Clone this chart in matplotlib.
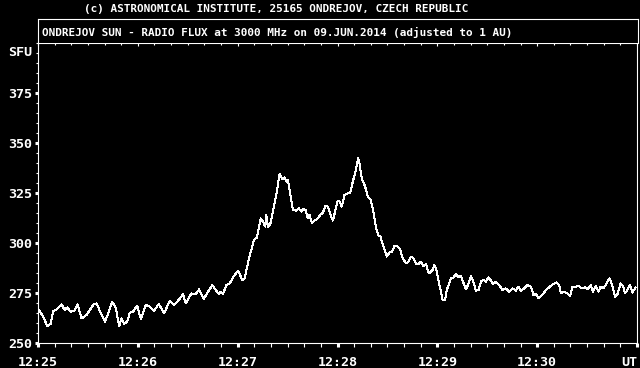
import numpy as np
import matplotlib
matplotlib.use("Agg")
import matplotlib.pyplot as plt
from matplotlib.ticker import MultipleLocator, FixedLocator

# seconds after 12:25:00 UT and flux in SFU
t_sec = [
    0.6, 3.2, 5.6, 7.6, 9.2, 11.2, 14.2, 16.0, 17.6, 19.6, 21.8, 23.8, 26.2, 29.2,
    31.2, 33.6, 35.2, 37.6, 40.2, 42.2, 44.6, 46.8, 48.8, 50.2, 51.8, 53.6, 55.2,
    57.2, 59.6, 61.8, 64.8, 67.2, 69.6, 72.6, 75.8, 79.2, 81.6, 84.2, 87.2, 88.8,
    92.2, 94.6, 96.8, 99.6, 102.2, 104.8, 106.8, 108.6, 109.8, 111.2, 113.2,
    115.2, 117.8, 120.2, 122.8, 124.2, 126.8, 129.8, 131.6, 133.8, 135.2, 136.6,
    137.2, 138.2, 139.6, 141.2, 143.2, 145.2, 146.8, 148.2, 149.2, 150.2, 151.2,
    153.2, 155.2, 156.8, 158.2, 159.6, 160.8, 162.2, 163.2, 164.6, 166.2, 168.2,
    169.6, 171.2, 172.8, 174.2, 175.6, 177.2, 178.8, 180.2, 181.2, 182.6, 184.2,
    186.2, 187.6, 189.2, 190.8, 192.4, 193.2, 194.6, 196.6, 198.2, 199.8, 201.2,
    203.2, 204.8, 205.8, 207.6, 209.6, 211.2, 212.8, 214.2, 216.2, 217.6, 219.2,
    221.2, 222.6, 224.2, 225.6, 227.2, 228.8, 230.2, 231.6, 233.2, 234.8, 236.2,
    237.2, 238.2, 239.2, 240.6, 242.2, 243.2, 244.6, 245.8, 247.2, 248.2, 249.8,
    251.2, 252.8, 254.2, 255.8, 257.2, 258.8, 260.2, 261.6, 263.2, 264.8, 266.2,
    267.8, 269.2, 270.6, 272.2, 273.6, 275.2, 277.2, 279.2, 281.2, 283.2, 285.2,
    287.2, 288.8, 290.2, 292.2, 294.2, 296.2, 297.8, 299.2, 300.8, 302.2, 303.8,
    305.2, 307.2, 309.2, 311.6, 313.2, 314.2, 316.2, 318.2, 319.8, 321.2, 323.2,
    325.2, 326.8, 328.8, 330.2, 332.2, 333.6, 335.2, 336.8, 338.2, 339.6, 340.8,
    342.2, 343.6, 345.2, 346.8, 348.2, 350.2, 351.6, 352.8, 354.2, 355.8, 357.2,
    359.2,
]
flux = [
    266.5, 263, 258.5, 259.5, 266, 266.8, 269.3, 266.5, 267.8, 265.7, 266.2, 269.3,
    262.3, 264, 266.5, 269.5, 269.8, 265.2, 260.7, 264.8, 270.7, 267.3, 258.5,
    262.3, 259.5, 260.7, 265.2, 265.7, 268.7, 262, 269, 268.2, 266, 269.5, 264.8,
    271.2, 269, 271.2, 274.3, 269.8, 274.8, 274.3, 276.8, 272, 275.7, 279, 276.5,
    274.5, 275.7, 274.5, 279, 279.8, 283.5, 286.2, 281.5, 282.3, 292.3, 301.5,
    302.8, 312.3, 310.7, 308.2, 314, 308.2, 309.5, 315.7, 324, 334.5, 331.8, 332.8,
    330.7, 331.5, 326.5, 316.5, 316.2, 317.3, 315.7, 317, 316.5, 312.3, 314, 310.2,
    311.2, 312.3, 314, 315.2, 318.5, 318.2, 314.5, 311.2, 316.5, 321.2, 320.7,
    318.2, 324, 324.8, 324.8, 330.7, 335.7, 342.3, 339.8, 332.3, 328.2, 323.2,
    321.8, 317.3, 307.3, 303.5, 303.2, 298.2, 293.2, 295.2, 295.7, 298.5, 298.2,
    296.8, 292.3, 289.8, 290.7, 293.2, 292.3, 289.5, 289.5, 290.7, 288.5, 289.5,
    284.8, 285.7, 286.5, 289, 287.3, 281.5, 275.7, 271.5, 271.5, 276.8, 279.8,
    282.3, 282.8, 284.5, 282.8, 283.5, 279.8, 276.8, 279.8, 283.5, 280.7, 276.2,
    276.5, 280.7, 281.5, 280.7, 282.8, 281.2, 279.5, 280.7, 279, 276.5, 277.3,
    275.7, 277.3, 276.2, 278.2, 276.2, 277.3, 279, 278.2, 274, 274.5, 272.3, 273.5,
    274.8, 276.5, 277.8, 279.3, 280.3, 279, 274.8, 275.7, 274.8, 273.5, 278.2,
    278.2, 278.5, 277.3, 277.8, 276.8, 279, 275.7, 278.5, 275.7, 278.2, 277.3,
    278.5, 280.7, 282.3, 278.5, 273.2, 274.3, 279.8, 278.5, 274.8, 276.5, 279,
    275.2, 277.8,
]

x_ticks = [0, 60, 120, 180, 240, 300, 360]
x_labels = ["12:25", "12:26", "12:27", "12:28", "12:29", "12:30", "UT"]
y_ticks = [250, 275, 300, 325, 350, 375]

title_top = "(c) ASTRONOMICAL INSTITUTE, 25165 ONDREJOV, CZECH REPUBLIC"
title_box = "ONDREJOV SUN - RADIO FLUX at 3000 MHz on 09.JUN.2014 (adjusted to 1 AU)"

W, H = 640, 368
mono = "DejaVu Sans Mono"

fig = plt.figure(figsize=(W / 100, H / 100), dpi=100, facecolor="black")

# main plot area
ax = fig.add_axes([38 / W, 1 - 343 / H, 599 / W, 300 / H], facecolor="black")
ax.plot(t_sec, flux, color="white", lw=0.72, antialiased=False)
ax.set_xlim(0, 360)
ax.set_ylim(250, 400)

for s in ax.spines.values():
    s.set_color("white")
    s.set_linewidth(0.8)

ax.xaxis.set_major_locator(FixedLocator(x_ticks))
ax.xaxis.set_minor_locator(MultipleLocator(10))
ax.set_xticklabels(x_labels)
ax.yaxis.set_major_locator(FixedLocator(y_ticks))
ax.yaxis.set_minor_locator(MultipleLocator(5))

ax.tick_params(axis="x", which="major", direction="out", length=3, width=2.2,
               color="white", labelcolor="white", pad=6, labelsize=9.6)
ax.tick_params(axis="x", which="minor", direction="out", length=3, width=0.8,
               color="white")
ax.tick_params(axis="y", which="major", direction="out", length=2.2, width=2.2,
               color="white", labelcolor="white", pad=2, labelsize=9.6)
ax.tick_params(axis="y", which="minor", direction="out", length=1.8, width=0.8,
               color="white")
for lab in ax.get_xticklabels() + ax.get_yticklabels():
    lab.set_fontfamily(mono)
    lab.set_fontweight("bold")
ax.get_xticklabels()[-1].set_horizontalalignment("right")

# small inward ticks along the top edge
top = ax.secondary_xaxis("top")
top.xaxis.set_major_locator(FixedLocator(x_ticks))
top.xaxis.set_minor_locator(MultipleLocator(10))
top.tick_params(which="major", direction="in", length=2.5, width=0.8,
                color="white", labeltop=False)
top.tick_params(which="minor", direction="in", length=1.6, width=0.8,
                color="white")
top.spines["top"].set_visible(False)

ax.annotate("SFU", xy=(0, 395), xycoords=("axes fraction", "data"),
            xytext=(-4, 0), textcoords="offset points", ha="right", va="center",
            color="white", fontsize=9.6, family=mono, fontweight="bold")

# title box above the plot
tb = fig.add_axes([38 / W, 1 - 43 / H, 600 / W, 24 / H], facecolor="black")
tb.set_xticks([])
tb.set_yticks([])
for s in tb.spines.values():
    s.set_color("white")
    s.set_linewidth(0.8)
tb.spines["bottom"].set_visible(False)

fig.text(277 / W, 1 - 32.5 / H, title_box, ha="center", va="center",
         color="white", fontsize=7.9, family=mono, fontweight="bold")
fig.text(276 / W, 1 - 8.5 / H, title_top, ha="center", va="center",
         color="white", fontsize=7.9, family=mono, fontweight="bold")

fig.savefig("out.png", dpi=100, facecolor="black")
